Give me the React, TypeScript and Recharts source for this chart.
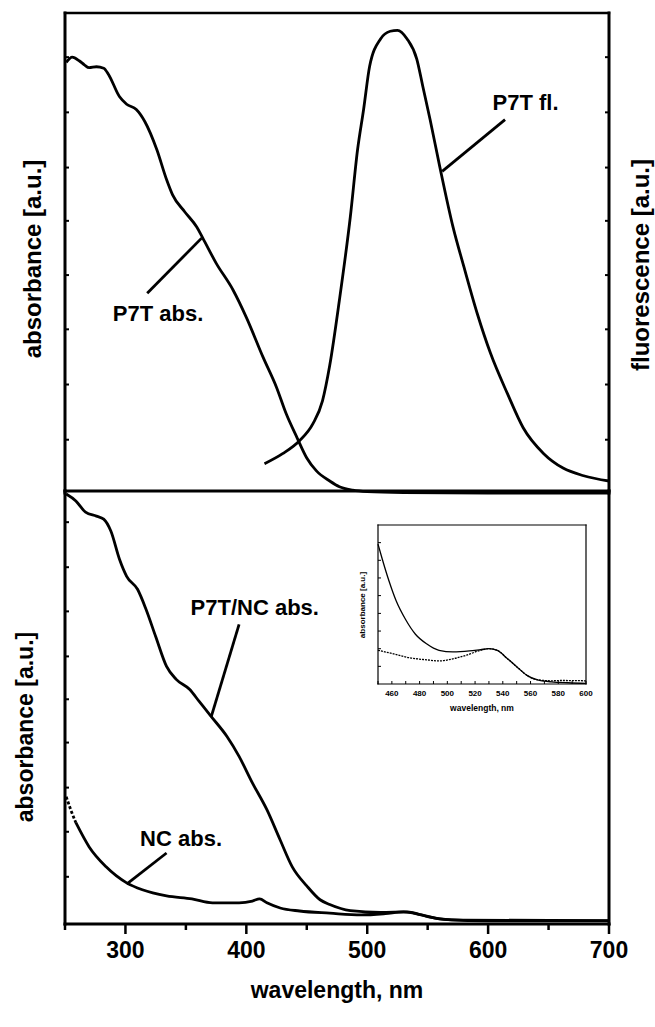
import React from 'react';
import { LineChart, Line, XAxis, YAxis, ReferenceLine, ReferenceDot } from 'recharts';

// wavelength (nm) / intensity (a.u., 0..1 of the panel height)
const p7tAbsWl = [251, 256, 262, 266, 270, 276, 282, 286, 295, 301, 309, 316, 326, 334, 339, 349, 359, 364, 375, 389, 400, 414, 425, 433, 442, 450, 458, 469, 477, 488, 500, 530, 600, 700];
const p7tAbsVal = [0.897, 0.908, 0.900, 0.892, 0.886, 0.888, 0.885, 0.872, 0.826, 0.81, 0.799, 0.774, 0.715, 0.653, 0.621, 0.586, 0.554, 0.531, 0.479, 0.423, 0.366, 0.282, 0.22, 0.165, 0.115, 0.073, 0.046, 0.025, 0.013, 0.006, 0.003, 0.001, 0.0, 0.0];

const p7tFlWl = [415, 430, 444, 455, 463, 469, 477, 486, 492, 497, 502, 511, 519, 525, 533, 541, 546, 552, 560, 571, 580, 591, 602, 616, 629, 646, 662, 679, 700];
const p7tFlVal = [0.061, 0.082, 0.109, 0.144, 0.192, 0.266, 0.402, 0.575, 0.715, 0.799, 0.889, 0.946, 0.962, 0.964, 0.946, 0.904, 0.847, 0.778, 0.68, 0.554, 0.471, 0.374, 0.291, 0.207, 0.136, 0.082, 0.052, 0.036, 0.025];

const hybridWl = [251, 259, 267, 276, 282, 288, 295, 301, 310, 317, 325, 334, 342, 353, 361, 371, 384, 394, 405, 417, 428, 438, 450, 461, 469, 486, 511, 533, 550, 566, 600, 700];
const hybridVal = [0.993, 0.977, 0.951, 0.942, 0.935, 0.907, 0.843, 0.803, 0.773, 0.727, 0.664, 0.595, 0.565, 0.542, 0.514, 0.479, 0.433, 0.387, 0.326, 0.264, 0.194, 0.132, 0.088, 0.056, 0.045, 0.031, 0.027, 0.028, 0.017, 0.010, 0.007, 0.007];

// NC absorbance: the first few nm are drawn dotted in the figure
const ncStartWl = [251, 255, 259];
const ncStartVal = [0.294, 0.262, 0.234];
const ncWl = [259, 270, 284, 301, 314, 334, 355, 372, 394, 405, 411, 417, 428, 444, 469, 495, 515, 530, 545, 560, 580, 700];
const ncVal = [0.234, 0.178, 0.132, 0.095, 0.079, 0.065, 0.058, 0.049, 0.049, 0.053, 0.058, 0.049, 0.037, 0.030, 0.025, 0.021, 0.024, 0.028, 0.021, 0.012, 0.009, 0.008];

// inset, 450-600 nm
const insetHybridWl = [450, 453, 458, 463, 470, 477, 485, 494, 504, 516, 524, 530, 536, 543, 551, 558, 565, 575, 587, 600];
const insetHybridVal = [0.88, 0.788, 0.646, 0.525, 0.404, 0.313, 0.253, 0.212, 0.202, 0.208, 0.216, 0.222, 0.212, 0.162, 0.101, 0.051, 0.026, 0.014, 0.008, 0.004];
const insetNcWl = [450, 460, 472, 485, 494, 504, 514, 524, 530, 536, 543, 551, 558, 565, 575, 582, 600];
const insetNcVal = [0.212, 0.192, 0.166, 0.152, 0.145, 0.158, 0.182, 0.212, 0.222, 0.212, 0.162, 0.101, 0.051, 0.027, 0.02, 0.022, 0.02];

const xTicks = [250, 300, 350, 400, 450, 500, 550, 600, 650, 700];
const topYTicks = [0.111, 0.226, 0.341, 0.454, 0.567, 0.678, 0.793, 0.908];
const bottomYTicks = [0.109, 0.213, 0.315, 0.419, 0.519, 0.618, 0.722, 0.824, 0.928];
const insetXTicks = [450, 460, 470, 480, 490, 500, 510, 520, 530, 540, 550, 560, 570, 580, 590, 600];
const insetYTicks = [0.111, 0.222, 0.333, 0.444, 0.556, 0.667, 0.778, 0.889];

const toPoints = (wl: number[], val: number[]) => wl.map((w, i) => ({ wl: w, v: val[i] }));

const absData = toPoints(p7tAbsWl, p7tAbsVal);
const flData = toPoints(p7tFlWl, p7tFlVal);
const hybridData = toPoints(hybridWl, hybridVal);
const ncStartData = toPoints(ncStartWl, ncStartVal);
const ncData = toPoints(ncWl, ncVal);
const insetHybrid = toPoints(insetHybridWl, insetHybridVal);
const insetNc = toPoints(insetNcWl, insetNcVal);

const FONT = '"Liberation Sans", Arial, sans-serif';
const axisLine = { stroke: '#000', strokeWidth: 3, strokeLinecap: 'square' as const };
const thinTop = { stroke: '#000', strokeWidth: 2.4, strokeLinecap: 'square' as const };
const tickLine = { stroke: '#000', strokeWidth: 2 };
const noLabel = () => '';
const annot = (value: string) => ({ value, position: 'center' as const, fontSize: 22, fontWeight: 'bold', fill: '#000' });
const CURVE = 2.8;

const MainBottomTick = (props: any) => {
  const { x, y, payload } = props;
  const major = payload.value % 100 === 0;
  return (
    <g>
      <line x1={x} y1={y} x2={x} y2={y + (major ? 10 : 6)} stroke="#000" strokeWidth={2.5} />
      {major && (
        <text x={x} y={y + 34} textAnchor="middle" fontSize={23} fontWeight="bold" fill="#000">
          {payload.value}
        </text>
      )}
    </g>
  );
};

const InsetBottomTick = (props: any) => {
  const { x, y, payload } = props;
  const labelled = payload.value % 20 === 0;
  return (
    <g>
      <line x1={x} y1={y} x2={x} y2={y - 3} stroke="#000" strokeWidth={1} />
      {labelled && (
        <text x={x} y={y + 12} textAnchor="middle" fontSize={8} fontWeight="bold" fill="#000">
          {payload.value}
        </text>
      )}
    </g>
  );
};

function TopPanel() {
  return (
    <LineChart width={655} height={500} margin={{ top: 13, right: 46, bottom: 7, left: 65 }}>
      <XAxis dataKey="wl" type="number" domain={[250, 700]} ticks={xTicks} interval={0} height={1} mirror
        axisLine={false} tickLine={tickLine} tickSize={4} tick={false} />
      <XAxis xAxisId="top" orientation="top" dataKey="wl" type="number" domain={[250, 700]} ticks={xTicks} interval={0}
        height={1} mirror axisLine={thinTop} tickLine={tickLine} tickSize={4} tick={false} />
      <YAxis type="number" domain={[0, 1]} ticks={topYTicks} interval={0} width={1} mirror
        axisLine={axisLine} tickLine={tickLine} tickSize={4} tickFormatter={noLabel} />
      <YAxis yAxisId="right" orientation="right" type="number" domain={[0, 1]} ticks={topYTicks} interval={0} width={1} mirror
        axisLine={axisLine} tickLine={tickLine} tickSize={4} tickFormatter={noLabel} />
      <Line data={absData} dataKey="v" type="monotone" stroke="#000" strokeWidth={CURVE} dot={false} isAnimationActive={false} />
      <Line data={flData} dataKey="v" yAxisId="right" type="monotone" stroke="#000" strokeWidth={CURVE} dot={false} isAnimationActive={false} />
      <ReferenceLine segment={[{ x: 318, y: 0.416 }, { x: 363, y: 0.531 }]} stroke="#000" strokeWidth={CURVE} />
      <ReferenceLine yAxisId="right" segment={[{ x: 614, y: 0.778 }, { x: 562, y: 0.67 }]} stroke="#000" strokeWidth={CURVE} />
      <ReferenceDot x={327} y={0.374} r={0} fill="none" stroke="none" label={annot('P7T abs.')} />
      <ReferenceDot yAxisId="right" x={631} y={0.814} r={0} fill="none" stroke="none" label={annot('P7T fl.')} />
    </LineChart>
  );
}

function BottomPanel() {
  return (
    <LineChart width={655} height={543} margin={{ top: 7, right: 46, bottom: 3, left: 65 }}>
      <XAxis dataKey="wl" type="number" domain={[250, 700]} ticks={xTicks} interval={0} height={100}
        axisLine={axisLine} tickLine={false} tickSize={0} tickMargin={0} tick={<MainBottomTick />} />
      <XAxis xAxisId="top" orientation="top" dataKey="wl" type="number" domain={[250, 700]} ticks={xTicks} interval={0}
        height={1} mirror axisLine={axisLine} tickLine={false} tick={false} />
      <YAxis type="number" domain={[0, 1]} ticks={bottomYTicks} interval={0} width={1} mirror
        axisLine={axisLine} tickLine={tickLine} tickSize={4} tickFormatter={noLabel} />
      <YAxis yAxisId="right" orientation="right" type="number" domain={[0, 1]} ticks={bottomYTicks} interval={0} width={1} mirror
        axisLine={axisLine} tickLine={tickLine} tickSize={4} tickFormatter={noLabel} />
      <Line data={hybridData} dataKey="v" type="monotone" stroke="#000" strokeWidth={CURVE} dot={false} isAnimationActive={false} />
      <Line data={ncStartData} dataKey="v" type="monotone" stroke="#000" strokeWidth={CURVE} strokeDasharray="3 2" dot={false} isAnimationActive={false} />
      <Line data={ncData} dataKey="v" type="monotone" stroke="#000" strokeWidth={CURVE} dot={false} isAnimationActive={false} />
      <ReferenceLine segment={[{ x: 394, y: 0.692 }, { x: 371, y: 0.479 }]} stroke="#000" strokeWidth={CURVE} />
      <ReferenceLine segment={[{ x: 334, y: 0.164 }, { x: 301, y: 0.092 }]} stroke="#000" strokeWidth={CURVE} />
      <ReferenceDot x={407} y={0.731} r={0} fill="none" stroke="none" label={annot('P7T/NC abs.')} />
      <ReferenceDot x={346} y={0.199} r={0} fill="none" stroke="none" label={annot('NC abs.')} />
    </LineChart>
  );
}

function Inset() {
  const thin = { stroke: '#000', strokeWidth: 1.2, strokeLinecap: 'square' as const };
  const tl = { stroke: '#000', strokeWidth: 1 };
  return (
    <LineChart width={260} height={205} margin={{ top: 10, right: 14, bottom: 0, left: 38 }}>
      <XAxis dataKey="wl" type="number" domain={[450, 600]} ticks={insetXTicks} interval={0} height={36}
        axisLine={thin} tickLine={false} tickSize={0} tickMargin={0} tick={<InsetBottomTick />} />
      <XAxis xAxisId="top" orientation="top" dataKey="wl" type="number" domain={[450, 600]} ticks={insetXTicks} interval={0}
        height={1} mirror axisLine={thin} tickLine={tl} tickSize={3} tick={false} />
      <YAxis type="number" domain={[0, 1]} ticks={insetYTicks} interval={0} width={1} mirror
        axisLine={thin} tickLine={tl} tickSize={3} tickFormatter={noLabel} />
      <YAxis yAxisId="right" orientation="right" type="number" domain={[0, 1]} ticks={insetYTicks} interval={0} width={1} mirror
        axisLine={thin} tickLine={tl} tickSize={3} tickFormatter={noLabel} />
      <Line data={insetNc} dataKey="v" type="monotone" stroke="#000" strokeWidth={1.3} strokeDasharray="2 1" dot={false} isAnimationActive={false} />
      <Line data={insetHybrid} dataKey="v" type="monotone" stroke="#000" strokeWidth={1.3} dot={false} isAnimationActive={false} />
    </LineChart>
  );
}

export default function App() {
  const title = { fontWeight: 'bold' as const, fill: '#000', textAnchor: 'middle' as const, dominantBaseline: 'central' as const };
  return (
    <div style={{ position: 'absolute', left: 0, top: 0, width: 655, height: 1027, background: '#fff', fontFamily: FONT }}>
      <div style={{ position: 'absolute', left: 0, top: 0 }}>
        <TopPanel />
      </div>
      <div style={{ position: 'absolute', left: 0, top: 484 }}>
        <BottomPanel />
      </div>
      <div style={{ position: 'absolute', left: 340, top: 515 }}>
        <Inset />
      </div>
      <svg width={655} height={1027} style={{ position: 'absolute', left: 0, top: 0, pointerEvents: 'none' }}>
        <text x={32} y={259} fontSize={24} transform="rotate(-90 32 259)" {...title}>absorbance [a.u.]</text>
        <text x={640} y={265} fontSize={24} transform="rotate(-90 640 265)" {...title}>fluorescence [a.u.]</text>
        <text x={25} y={727} fontSize={23} transform="rotate(-90 25 727)" {...title}>absorbance [a.u.]</text>
        <text x={337} y={990} fontSize={23} {...title}>wavelength, nm</text>
        <text x={482} y={708} fontSize={8.5} {...title}>wavelength, nm</text>
        <text x={362} y={605} fontSize={8} transform="rotate(-90 362 605)" {...title}>absorbance [a.u.]</text>
      </svg>
    </div>
  );
}
